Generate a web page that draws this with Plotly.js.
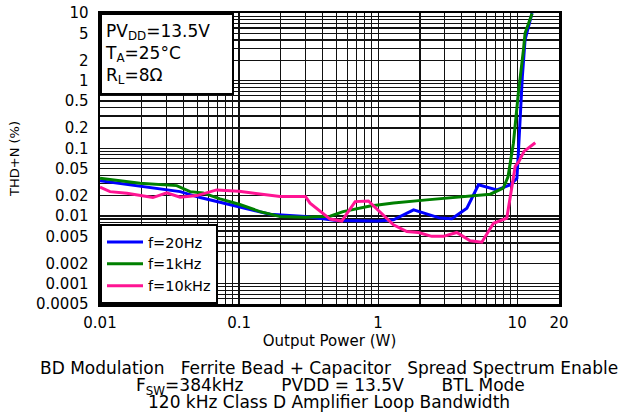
<!DOCTYPE html>
<html>
<head>
<meta charset="utf-8">
<script src="https://cdn.plot.ly/plotly-3.0.1.min.js"></script>
<style>html,body{margin:0;padding:0;background:#fff;}#chart{width:620px;height:417px;}</style>
</head>
<body>
<div id="chart"></div>
<script>
// Output power (W) and THD+N (%)
const blueX  = [0.01, 0.0377, 0.0525, 0.1016, 0.167, 0.3, 0.5, 1.0, 1.29, 1.8, 2.79, 3.39, 4.35, 5.27, 7.15, 8.91, 9.96, 10.2, 10.9, 11.4, 12.8];
const blueY  = [0.0333, 0.0229, 0.0187, 0.0135, 0.0106, 0.0098, 0.0086, 0.0084, 0.0088, 0.0123, 0.0093, 0.0091, 0.013, 0.0288, 0.0243, 0.0288, 0.0361, 0.085, 1.15, 4.0, 10];

const greenX = [0.01, 0.0194, 0.0356, 0.0444, 0.055, 0.073, 0.1, 0.1416, 0.197, 0.3, 0.452, 0.56, 0.875, 1.29, 2.24, 3.89, 6.4, 7.94, 8.6, 9.4, 10.2, 11.1, 11.4, 12.8];
const greenY = [0.036, 0.0305, 0.0281, 0.0229, 0.0219, 0.0179, 0.0149, 0.0116, 0.0098, 0.0096, 0.0099, 0.0116, 0.014, 0.0155, 0.0173, 0.0194, 0.021, 0.0257, 0.038, 0.119, 0.652, 2.84, 5.0, 9.8];

const pinkX  = [0.01, 0.0118, 0.0156, 0.024, 0.0302, 0.0377, 0.0497, 0.069, 0.1, 0.1416, 0.197, 0.261, 0.3, 0.324, 0.452, 0.548, 0.684, 0.852, 1.03, 1.29, 1.61, 1.95, 2.43, 2.95, 3.68, 4.59, 5.57, 6.76, 8.43, 9.0, 9.68, 10.3, 11.2, 13.5];
const pinkY  = [0.0266, 0.0229, 0.0217, 0.0187, 0.0219, 0.0189, 0.020, 0.0243, 0.0232, 0.021, 0.0194, 0.0194, 0.0194, 0.0155, 0.009, 0.0084, 0.0163, 0.0167, 0.0116, 0.0074, 0.0059, 0.0057, 0.005, 0.005, 0.0057, 0.0043, 0.0041, 0.0078, 0.0093, 0.02, 0.054, 0.064, 0.09, 0.121];

const seriesNames = ['f=20Hz', 'f=1kHz', 'f=10kHz'];
const xTickVals = [0.01, 0.1, 1, 10, 20];
const xTickText = ['0.01', '0.1', '1', '10', '20'];
const yTickVals = [10, 5, 2, 1, 0.5, 0.2, 0.1, 0.05, 0.02, 0.01, 0.005, 0.002, 0.001, 0.0005];
const yTickText = ['10', '5', '2', '1', '0.5', '0.2', '0.1', '0.05', '0.02', '0.01', '0.005', '0.002', '0.001', '0.0005'];

const FONT = 'DejaVu Sans, Verdana, sans-serif';

const traces = [
  {x: blueX, y: blueY, name: seriesNames[0], mode: 'lines', line: {color: '#0000ff', width: 3}},
  {x: greenX, y: greenY, name: seriesNames[1], mode: 'lines', line: {color: '#008000', width: 3}},
  {x: pinkX, y: pinkY, name: seriesNames[2], mode: 'lines', line: {color: '#ff1493', width: 3}}
];

const gridC = '#111';
const layout = {
  width: 620, height: 417,
  margin: {l: 100, r: 61, t: 13, b: 113, pad: 0},
  paper_bgcolor: '#fff', plot_bgcolor: '#fff',
  font: {family: FONT, size: 15, color: '#000'},
  showlegend: true,
  legend: {
    x: 0, y: 0, xanchor: 'left', yanchor: 'bottom',
    bgcolor: '#fff', bordercolor: '#000', borderwidth: 2,
    font: {family: FONT, size: 14.5, color: '#000'},
    tracegroupgap: 0, itemwidth: 36
  },
  xaxis: {
    type: 'log', range: [Math.log10(0.01), Math.log10(20)],
    tickmode: 'array', tickvals: xTickVals, ticktext: xTickText,
    ticks: 'outside', ticklen: 3, tickcolor: 'rgba(0,0,0,0)',
    showgrid: true, gridcolor: gridC, gridwidth: 1.2,
    minor: {dtick: 'D1', showgrid: true, gridcolor: gridC, gridwidth: 1.2, ticks: ''},
    showline: true, mirror: true, linecolor: '#000', linewidth: 2.5,
    zeroline: false,
    title: {text: 'Output Power (W)', font: {family: FONT, size: 15}, standoff: 0},
    tickfont: {family: FONT, size: 15}
  },
  yaxis: {
    type: 'log', range: [Math.log10(0.0005), 1],
    tickmode: 'array', tickvals: yTickVals, ticktext: yTickText,
    ticks: 'outside', ticklen: 6, tickcolor: 'rgba(0,0,0,0)',
    showgrid: true, gridcolor: gridC, gridwidth: 1.2,
    minor: {dtick: 'D1', showgrid: true, gridcolor: gridC, gridwidth: 1.2, ticks: ''},
    showline: true, mirror: true, linecolor: '#000', linewidth: 2.5,
    zeroline: false,
    title: {text: 'THD+N (%)', font: {family: FONT, size: 13}, standoff: 14},
    tickfont: {family: FONT, size: 15}
  },
  annotations: [
    {
      xref: 'paper', yref: 'paper', x: 0, y: 1, xanchor: 'left', yanchor: 'top',
      text: 'PV<sub>DD</sub>=13.5V<br>T<sub>A</sub>=25°C<br>R<sub>L</sub>=8Ω',
      showarrow: false, align: 'left', valign: 'middle', width: 124, height: 72,
      bgcolor: '#fff', bordercolor: '#000', borderwidth: 2,
      borderpad: 3, font: {family: FONT, size: 17, color: '#000'}
    },
    {
      xref: 'paper', yref: 'paper', x: 0.498, y: -0.22, xanchor: 'center', yanchor: 'middle',
      text: 'BD Modulation   Ferrite Bead + Capacitor   Spread Spectrum Enable',
      showarrow: false, font: {family: FONT, size: 17, color: '#000'}
    },
    {
      xref: 'paper', yref: 'paper', x: 0.502, y: -0.283, xanchor: 'center', yanchor: 'middle',
      text: 'F<sub>SW</sub>=384kHz       PVDD = 13.5V       BTL Mode',
      showarrow: false, font: {family: FONT, size: 17, color: '#000'}
    },
    {
      xref: 'paper', yref: 'paper', x: 0.498, y: -0.337, xanchor: 'center', yanchor: 'middle',
      text: '120 kHz Class D Amplifier Loop Bandwidth',
      showarrow: false, font: {family: FONT, size: 17, color: '#000'}
    }
  ]
};

Plotly.newPlot('chart', traces, layout, {displayModeBar: false, staticPlot: true});
</script>
</body>
</html>
